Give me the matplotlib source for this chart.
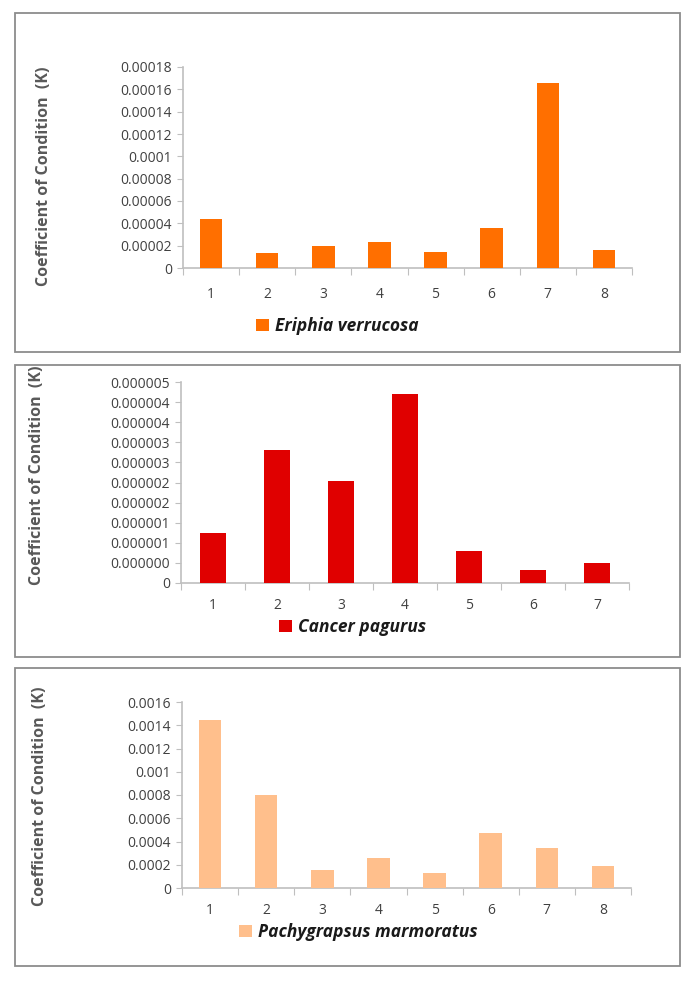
import matplotlib
matplotlib.use("Agg")
import matplotlib.pyplot as plt
from matplotlib.patches import Rectangle

plt.rcParams['font.family'] = ['Open Sans', 'DejaVu Sans']

# data
eriphia_cat = [1, 2, 3, 4, 5, 6, 7, 8]
eriphia_k = [0.0000435, 0.0000135, 0.0000195, 0.0000235, 0.000014, 0.000036, 0.000166, 0.000016]
eriphia_ticks = [0, 0.00002, 0.00004, 0.00006, 0.00008, 0.0001, 0.00012, 0.00014, 0.00016, 0.00018]
eriphia_labels = ["0", "0.00002", "0.00004", "0.00006", "0.00008", "0.0001",
                  "0.00012", "0.00014", "0.00016", "0.00018"]

cancer_cat = [1, 2, 3, 4, 5, 6, 7]
cancer_k = [0.00000124, 0.0000033, 0.00000253, 0.00000471, 0.0000008, 0.00000033, 0.00000049]
cancer_ticks = [0, 0.0000005, 0.000001, 0.0000015, 0.000002, 0.0000025,
                0.000003, 0.0000035, 0.000004, 0.0000045, 0.000005]
cancer_labels = ["0", "0.000000", "0.000001", "0.000001", "0.000002", "0.000002",
                 "0.000003", "0.000003", "0.000004", "0.000004", "0.000005"]

pachy_cat = [1, 2, 3, 4, 5, 6, 7, 8]
pachy_k = [0.001445, 0.0008, 0.000155, 0.000255, 0.000132, 0.000476, 0.000341, 0.000189]
pachy_ticks = [0, 0.0002, 0.0004, 0.0006, 0.0008, 0.001, 0.0012, 0.0014, 0.0016]
pachy_labels = ["0", "0.0002", "0.0004", "0.0006", "0.0008", "0.001", "0.0012", "0.0014", "0.0016"]

W, H = 691, 981
fig = plt.figure(figsize=(W / 100, H / 100), dpi=100, facecolor='white')


def px_axes(left, top, right, bottom):
    return fig.add_axes([left / W, (H - bottom) / H, (right - left) / W, (bottom - top) / H])


def border(left, top, right, bottom):
    fig.patches.append(Rectangle((left / W, (H - bottom) / H), (right - left) / W, (bottom - top) / H,
                                 transform=fig.transFigure, fill=False, edgecolor='#8c8c8c', lw=1.3))


def panel(box, axbox, cats, vals, ticks, labels, color, name, leg_xy, ylab_xy, xpad):
    border(*box)
    ax = px_axes(*axbox)
    ax.bar(cats, vals, width=0.4, color=color, label=name, zorder=3)
    n = len(cats)
    ax.set_xlim(0.5, n + 0.5)
    ax.set_ylim(ticks[0], ticks[-1])
    ax.set_yticks(ticks)
    ax.set_yticklabels(labels)
    ax.set_xticks([i + 0.5 for i in range(n + 1)])
    ax.set_xticklabels([])
    ax.set_xticks(cats, minor=True)
    ax.set_xticklabels([str(c) for c in cats], minor=True)
    for s in ['top', 'right']:
        ax.spines[s].set_visible(False)
    for s in ['left', 'bottom']:
        ax.spines[s].set_color('#bfbfbf')
        ax.spines[s].set_linewidth(1.2)
    ax.tick_params(axis='y', which='major', length=4, color='#bfbfbf', labelsize=10,
                   labelcolor='#404040', pad=4)
    ax.tick_params(axis='x', which='major', length=5, color='#bfbfbf', direction='out')
    ax.tick_params(axis='x', which='minor', length=0, labelsize=10, labelcolor='#404040', pad=xpad)
    fig.text(ylab_xy[0] / W, (H - ylab_xy[1]) / H, "Coefficient of Condition  (K)",
             rotation=90, ha='center', va='center', fontsize=11.5, fontweight='bold',
             color='#595959')
    leg = ax.legend(loc='center', bbox_to_anchor=(leg_xy[0] / W, (H - leg_xy[1]) / H),
                    bbox_transform=fig.transFigure, frameon=False, handlelength=0.75,
                    handleheight=0.75, handletextpad=0.35, borderpad=0.1,
                    prop={'size': 12.5, 'style': 'italic', 'weight': 'bold'})
    for t in leg.get_texts():
        t.set_color('#1a1a1a')
    return ax


panel((15, 13, 680, 352), (183, 67, 632, 268), eriphia_cat, eriphia_k, eriphia_ticks,
      eriphia_labels, '#ff6f00', 'Eriphia verrucosa', (337, 326), (44, 176), 14)
panel((15, 365, 680, 657), (181, 382, 629, 583), cancer_cat, cancer_k, cancer_ticks,
      cancer_labels, '#e00000', 'Cancer pagurus', (353, 627), (37, 475), 11)
panel((15, 668, 680, 966), (182, 702, 631, 888), pachy_cat, pachy_k, pachy_ticks,
      pachy_labels, '#ffbf8c', 'Pachygrapsus marmoratus', (358, 932), (40, 796), 11)

fig.savefig("out.png", dpi=100, facecolor='white')
